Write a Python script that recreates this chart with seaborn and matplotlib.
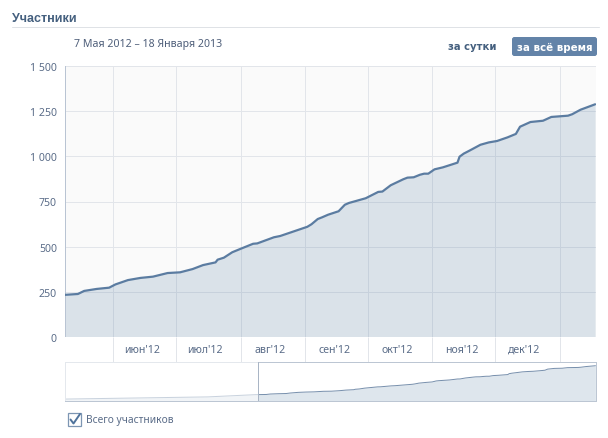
import pandas as pd
import seaborn as sns
import matplotlib.pyplot as plt
from matplotlib.patches import FancyBboxPatch, Rectangle

W, H = 608, 439

# values
dates = ["2012-05-07", "2012-05-15", "2012-05-18", "2012-05-24", "2012-05-30", "2012-06-02",
         "2012-06-08", "2012-06-14", "2012-06-20", "2012-06-27", "2012-07-03", "2012-07-09",
         "2012-07-14", "2012-07-20", "2012-07-21", "2012-07-24", "2012-07-28", "2012-08-01",
         "2012-08-07", "2012-08-09", "2012-08-17", "2012-08-20", "2012-09-02", "2012-09-04",
         "2012-09-07", "2012-09-09", "2012-09-12", "2012-09-17", "2012-09-20", "2012-09-22",
         "2012-09-30", "2012-10-06", "2012-10-08", "2012-10-12", "2012-10-18", "2012-10-20",
         "2012-10-23", "2012-10-26", "2012-10-28", "2012-10-30", "2012-11-02", "2012-11-06",
         "2012-11-13", "2012-11-14", "2012-11-16", "2012-11-19", "2012-11-24", "2012-11-28",
         "2012-12-02", "2012-12-07", "2012-12-11", "2012-12-13", "2012-12-18", "2012-12-24",
         "2012-12-28", "2013-01-05", "2013-01-07", "2013-01-11", "2013-01-18"]
members = [232, 238, 255, 266, 273, 291,
           315, 327, 334, 354, 358, 376,
           398, 413, 428, 439, 469, 488,
           516, 518, 552, 559, 610, 624,
           653, 662, 677, 696, 732, 742,
           768, 803, 805, 840, 873, 882,
           884, 898, 904, 904, 928, 939,
           965, 998, 1015, 1033, 1064, 1077,
           1085, 1105, 1124, 1164, 1190, 1197,
           1218, 1225, 1233, 1258, 1288]

# part of the history only visible in the small overview chart
early_dates = ["2011-12-15", "2012-04-01"]
early_members = [70, 150]

y_ticks = [0, 250, 500, 750, 1000, 1250, 1500]
y_labels = ["0", "250", "500", "750", "1 000", "1 250", "1 500"]
month_starts = ["2012-06-01", "2012-07-01", "2012-08-01", "2012-09-01",
                "2012-10-01", "2012-11-01", "2012-12-01", "2013-01-01"]
month_mids = ["2012-06-15", "2012-07-15", "2012-08-15", "2012-09-15",
              "2012-10-15", "2012-11-15", "2012-12-15"]
month_labels = ["июн'12", "июл'12", "авг'12", "сен'12", "окт'12", "ноя'12", "дек'12"]

BLUE = "#5b85a8"
LINE = "#5b7ca1"
TEXT = "#5a6c88"
HEAD = "#45607f"
GRID = "#e2e5ea"
THIN = 0.72  # one pixel at dpi 100

sns.set_theme(style="white")
plt.rcParams["font.family"] = ["Noto Sans", "DejaVu Sans"]

df = pd.DataFrame({"date": pd.to_datetime(dates), "members": members})
df_all = pd.DataFrame({"date": pd.to_datetime(early_dates + dates), "members": early_members + members})
starts = pd.to_datetime(month_starts)
mids = pd.to_datetime(month_mids)
x_from = pd.Timestamp("2012-05-08 14:00")
x_to = pd.Timestamp("2013-01-18 10:00")
over_from = pd.Timestamp("2011-12-15")


def px_axes(fig, left, top, right, bottom):
    return fig.add_axes([left / W, 1 - bottom / H, (right - left) / W, (bottom - top) / H])


fig = plt.figure(figsize=(W / 100, H / 100), dpi=100, facecolor="white")

# --- main chart ---
ax = px_axes(fig, 64.5, 67, 596, 338)
ax.set_facecolor("#fafafa")
ax.hlines(y_ticks, x_from, x_to, color=GRID, lw=THIN, zorder=1)
ax.vlines(starts, 0, 1500, color=GRID, lw=THIN, zorder=1)
ax.fill_between(df["date"], df["members"], 0, color=BLUE, alpha=0.2, lw=0, zorder=2)
sns.lineplot(data=df, x="date", y="members", ax=ax, color=LINE, lw=1.6, zorder=3)
ax.set_xlim(x_from, x_to)
ax.set_ylim(0, 1500)
ax.set_xlabel("")
ax.set_ylabel("")
ax.set_xticks([])
ax.set_yticks(y_ticks, y_labels)
ax.tick_params(axis="y", length=0, pad=5.5, labelsize=7.6, labelcolor=TEXT)
for side in ["top", "right", "bottom"]:
    ax.spines[side].set_visible(False)
ax.spines["left"].set_color("#b9c4d3")
ax.spines["left"].set_linewidth(THIN)

# --- month band ---
band = px_axes(fig, 64.5, 338, 596, 363)
band.set_xlim(x_from, x_to)
band.set_ylim(0, 1)
band.vlines(starts, 0, 1, color=GRID, lw=THIN)
for d, label in zip(mids, month_labels):
    band.text(d, 0.5, label, ha="center", va="center", fontsize=7.6, color=TEXT)
band.set_xticks([])
band.set_yticks([])
for side in band.spines:
    band.spines[side].set_visible(False)

# --- overview ---
over = px_axes(fig, 64.5, 363, 596, 402)
over.fill_between(df_all["date"], df_all["members"], 0, color=BLUE, alpha=0.2, lw=0, zorder=1)
sns.lineplot(data=df_all, x="date", y="members", ax=over, color="#7890ad", lw=THIN, zorder=2)
over.axvspan(over_from, x_from, color="white", alpha=0.6, lw=0, zorder=3)
over.axvline(x_from, color="#a9b5c5", lw=THIN, zorder=4)
over.set_xlim(over_from, x_to)
over.set_ylim(0, 1424)
over.set_xlabel("")
over.set_ylabel("")
over.set_xticks([])
over.set_yticks([])
for side in over.spines:
    over.spines[side].set_visible(True)
    over.spines[side].set_color("#bcc6d3")
    over.spines[side].set_linewidth(THIN)

# --- page furniture, in pixel coordinates ---
page = fig.add_axes([0, 0, 1, 1], zorder=-1)
page.set_xlim(0, W)
page.set_ylim(H, 0)
page.axis("off")

page.text(12, 18.5, "Участники", fontsize=9, fontweight="bold", color=HEAD, va="center",
          family="Liberation Sans")
page.plot([12, 599], [27.5, 27.5], color="#dfe2e6", lw=THIN)
page.text(74, 44.5, "7 Мая 2012 – 18 Января 2013", fontsize=7.65, color="#4f5f7a", va="center")
page.text(472.5, 47.5, "за сутки", fontsize=7.2, fontweight="bold", color=HEAD, ha="center", va="center",
          family="DejaVu Sans")
page.add_patch(FancyBboxPatch((512.5, 38.5), 84, 18, boxstyle="round,pad=0,rounding_size=2",
                              fc="#6383a8", ec="#6383a8", lw=THIN))
page.text(554.5, 47.5, "за всё время", fontsize=7.4, fontweight="bold", color="white", ha="center", va="center",
          family="DejaVu Sans")

# checkbox
page.add_patch(Rectangle((67.5, 414.5), 13, 13, fc="white", ec="#7d96b3", lw=0.9))
page.plot([70.5, 73.5, 80], [420.5, 424.5, 415], color="#4f739c", lw=1.4)
page.text(86, 420.5, "Всего участников", fontsize=7.35, color=TEXT, va="center")

fig.savefig("out.png", dpi=100)
